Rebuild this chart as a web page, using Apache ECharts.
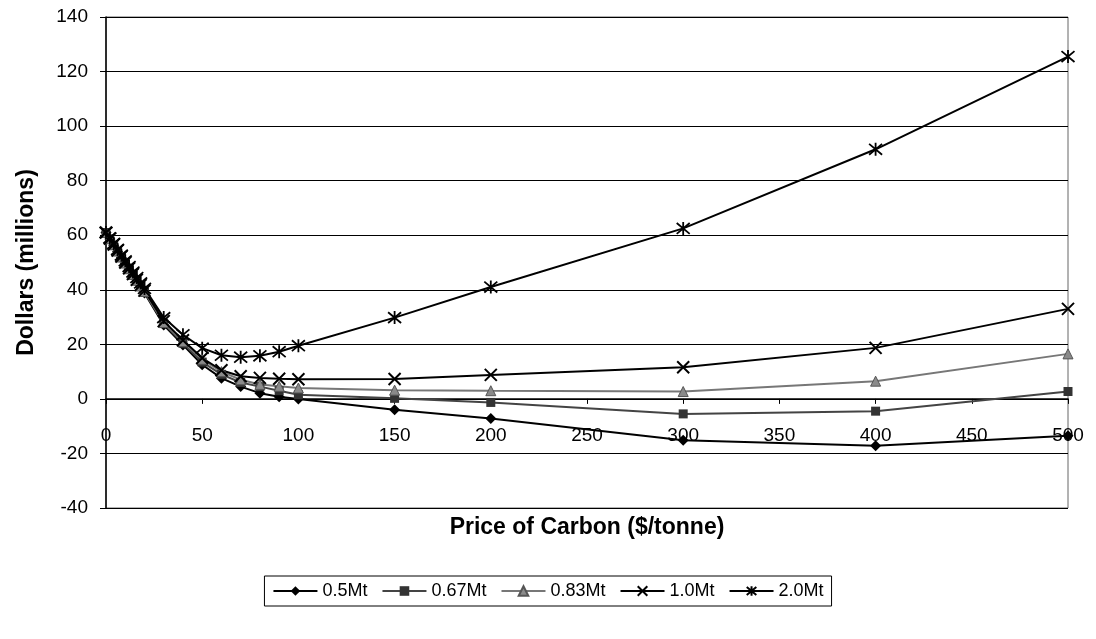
<!DOCTYPE html>
<html>
<head>
<meta charset="utf-8">
<script src="https://cdn.jsdelivr.net/npm/echarts@6/dist/echarts.min.js"></script>
<style>
html,body{margin:0;padding:0;background:#fff;}
#c{width:1096px;height:639px;}
</style>
</head>
<body>
<div id="c"></div>
<script>
var prices = [0,2,4,6,8,10,12,14,16,18,20,30,40,50,60,70,80,90,100,150,200,300,400,500];
var s05  = [61,58.6,56.3,54,51.7,49.5,47.3,45.1,43,40.9,38.8,27.1,19.8,12.5,7.6,4.5,2.1,0.8,0,-4,-7.2,-15.2,-17.2,-13.5];
var s067 = [61,58.7,56.4,54.1,51.9,49.7,47.5,45.4,43.3,41.2,39.1,27.6,20.4,13.5,9,6,4.5,3,1.5,0.2,-1.3,-5.5,-4.5,2.7];
var s083 = [61,58.7,56.5,54.2,52,49.8,47.7,45.6,43.5,41.4,39.4,28,21,14.5,10,7,5.3,4.6,4,3.2,3,2.7,6.5,16.5];
var s10  = [61,58.8,56.6,54.4,52.2,50,47.9,45.8,43.7,41.7,39.7,28.5,21.5,15,10.5,8.3,7.7,7.4,7.2,7.3,8.8,11.6,18.7,33];
var s20  = [61,59,57,54.8,52.7,50.6,48.5,46.5,44.5,42.5,40.5,29.8,23.5,18.6,16,15.3,15.8,17.3,19.5,29.8,41,62.5,91.5,125.5];
var seriesNames = ['0.5Mt','0.67Mt','0.83Mt','1.0Mt','2.0Mt'];
var yTicks = [-40,140,20];
var xTicks = [0,500,50];

function pairs(ys){ return prices.map(function(x,i){ return [x, ys[i]]; }); }

var X_PATH = 'path://M0,0L10,10M10,0L0,10';
var STAR_PATH = 'path://M0,0L10,10M10,0L0,10M5,-1L5,11';

var chart = echarts.init(document.getElementById('c'));
chart.setOption({
  animation:false,
  backgroundColor:'#fff',
  textStyle:{fontFamily:'Liberation Sans, Arial, sans-serif', color:'#000'},
  grid:{left:106,right:28,top:17,bottom:131,show:true,borderColor:'#666',borderWidth:1,
        containLabel:false, outerBoundsMode:'none'},
  legend:{
    bottom:33, left:'center',
    orient:'horizontal',
    itemWidth:44, itemHeight:12, itemGap:14,
    borderColor:'#000', borderWidth:1, padding:[6,8,6,8],
    textStyle:{fontSize:18, color:'#000', fontFamily:'Liberation Sans, Arial, sans-serif'},
    data:seriesNames
  },
  xAxis:{
    type:'value', min:xTicks[0], max:xTicks[1], interval:xTicks[2],
    name:'Price of Carbon ($/tonne)', nameLocation:'middle', nameGap:8,
    nameTextStyle:{fontSize:23,fontWeight:'bold',color:'#000',verticalAlign:'top'},
    axisLine:{onZero:true, lineStyle:{color:'#000',width:1.5}},
    axisTick:{show:true, inside:false, length:5, lineStyle:{color:'#000'}},
    axisLabel:{fontSize:19, color:'#000', margin:-82},
    splitLine:{show:false}
  },
  yAxis:{
    type:'value', min:yTicks[0], max:yTicks[1], interval:yTicks[2],
    name:'Dollars (millions)', nameLocation:'middle', nameGap:68,
    nameTextStyle:{fontSize:23,fontWeight:'bold',color:'#000'},
    axisLine:{show:true, lineStyle:{color:'#000',width:1.5}},
    axisTick:{show:true, length:6, lineStyle:{color:'#000'}},
    axisLabel:{fontSize:19, color:'#000', margin:18},
    splitLine:{show:true, lineStyle:{color:'#000',width:1}}
  },
  series:[
    {name:seriesNames[0], type:'line', data:pairs(s05), symbol:'diamond', symbolSize:11,
     lineStyle:{color:'#000',width:2}, itemStyle:{color:'#000'}},
    {name:seriesNames[1], type:'line', data:pairs(s067), symbol:'rect', symbolSize:9,
     lineStyle:{color:'#444',width:2}, itemStyle:{color:'#333'}},
    {name:seriesNames[2], type:'line', data:pairs(s083), symbol:'triangle', symbolSize:10,
     lineStyle:{color:'#777',width:2}, itemStyle:{color:'#8a8a8a',borderColor:'#555',borderWidth:1}},
    {name:seriesNames[3], type:'line', data:pairs(s10), symbol:X_PATH, symbolSize:12,
     lineStyle:{color:'#000',width:2}, itemStyle:{color:'#000',borderColor:'#000',borderWidth:2}},
    {name:seriesNames[4], type:'line', data:pairs(s20), symbol:STAR_PATH, symbolSize:13,
     lineStyle:{color:'#000',width:2}, itemStyle:{color:'#000',borderColor:'#000',borderWidth:1.8}}
  ]
});
</script>
</body>
</html>
